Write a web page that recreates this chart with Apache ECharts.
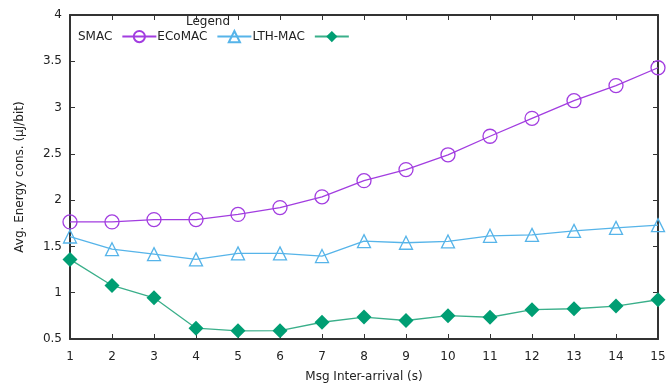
<!DOCTYPE html>
<html>
<head>
<meta charset="utf-8">
<script src="https://cdn.jsdelivr.net/npm/echarts@6/dist/echarts.min.js"></script>
<style>html,body{margin:0;padding:0;background:#fff}#c{width:669px;height:388px}</style>
</head>
<body>
<div id="c"></div>
<script>
const xValues = [1,2,3,4,5,6,7,8,9,10,11,12,13,14,15];
const smac = [1.765,1.765,1.79,1.79,1.846,1.92,2.036,2.21,2.33,2.49,2.69,2.884,3.074,3.238,3.43];
const ecomac = [1.607,1.47,1.417,1.36,1.425,1.425,1.396,1.557,1.54,1.554,1.615,1.625,1.668,1.70,1.73];
const lthmac = [1.36,1.078,0.945,0.617,0.588,0.59,0.681,0.737,0.70,0.752,0.735,0.817,0.827,0.856,0.924];
const seriesNames = ['SMAC','ECoMAC','LTH-MAC'];

const font = 'DejaVu Sans';
const axisColor = '#333';
function pairs(v){ return xValues.map((x,i)=>[x,v[i]]); }

const chart = echarts.init(document.getElementById('c'), null, {renderer:'canvas'});
chart.setOption({
  animation:false,
  backgroundColor:'#fff',
  textStyle:{fontFamily:font},
  title:{text:'Legend', left:186, top:16, padding:0,
    textStyle:{fontFamily:font, fontSize:12, fontWeight:'normal', color:'#222'}},
  legend:{
    left:78, top:30, align:'right', itemGap:0, itemWidth:34, itemHeight:14,
    padding:0,
    textStyle:{fontFamily:font, fontSize:12, color:'#222', padding:[0,5,0,0]},
    data:seriesNames
  },
  grid:{left:70, right:11, top:15, bottom:47, containLabel:false},
  xAxis:[{
    type:'value', min:1, max:15, interval:1,
    name:'Msg Inter-arrival (s)', nameLocation:'middle', nameGap:32,
    nameTextStyle:{fontFamily:font, fontSize:12, color:'#222'},
    axisLine:{onZero:false, lineStyle:{color:axisColor, width:2}},
    axisTick:{inside:true, length:5, lineStyle:{color:axisColor}},
    axisLabel:{fontFamily:font, fontSize:12, color:'#222', margin:12},
    splitLine:{show:false}
  },{
    type:'value', position:'top', min:1, max:15, interval:1,
    axisLine:{onZero:false, lineStyle:{color:axisColor, width:2}},
    axisTick:{inside:true, length:5, lineStyle:{color:axisColor}},
    axisLabel:{show:false}, splitLine:{show:false}
  }],
  yAxis:[{
    type:'value', min:0.5, max:4, interval:0.5,
    name:'Avg. Energy cons. (µJ/bit)', nameLocation:'middle', nameGap:44,
    nameTextStyle:{fontFamily:font, fontSize:12, color:'#222'},
    axisLine:{show:true, onZero:false, lineStyle:{color:axisColor, width:2}},
    axisTick:{show:true, inside:true, length:5, lineStyle:{color:axisColor}},
    axisLabel:{fontFamily:font, fontSize:12, color:'#222', margin:8},
    splitLine:{show:false}
  },{
    type:'value', position:'right', min:0.5, max:4, interval:0.5,
    axisLine:{show:true, onZero:false, lineStyle:{color:axisColor, width:2}},
    axisTick:{show:true, inside:true, length:5, lineStyle:{color:axisColor}},
    axisLabel:{show:false}, splitLine:{show:false}
  }],
  series:[
    {name:seriesNames[0], type:'line', data:pairs(smac),
     symbol:'circle', symbolSize:14, showAllSymbol:true,
     lineStyle:{color:'#a23de0', width:1.3},
     itemStyle:{color:'rgba(255,255,255,0)', borderColor:'#a23de0', borderWidth:1.3}},
    {name:seriesNames[1], type:'line', data:pairs(ecomac),
     symbol:'triangle', symbolSize:13, showAllSymbol:true,
     lineStyle:{color:'#56b4e9', width:1.3},
     itemStyle:{color:'rgba(255,255,255,0)', borderColor:'#56b4e9', borderWidth:1.3}},
    {name:seriesNames[2], type:'line', data:pairs(lthmac),
     symbol:'diamond', symbolSize:15, showAllSymbol:true,
     lineStyle:{color:'#3aaf8a', width:1.3},
     itemStyle:{color:'#009e73', borderWidth:0}}
  ]
});
</script>
</body>
</html>
